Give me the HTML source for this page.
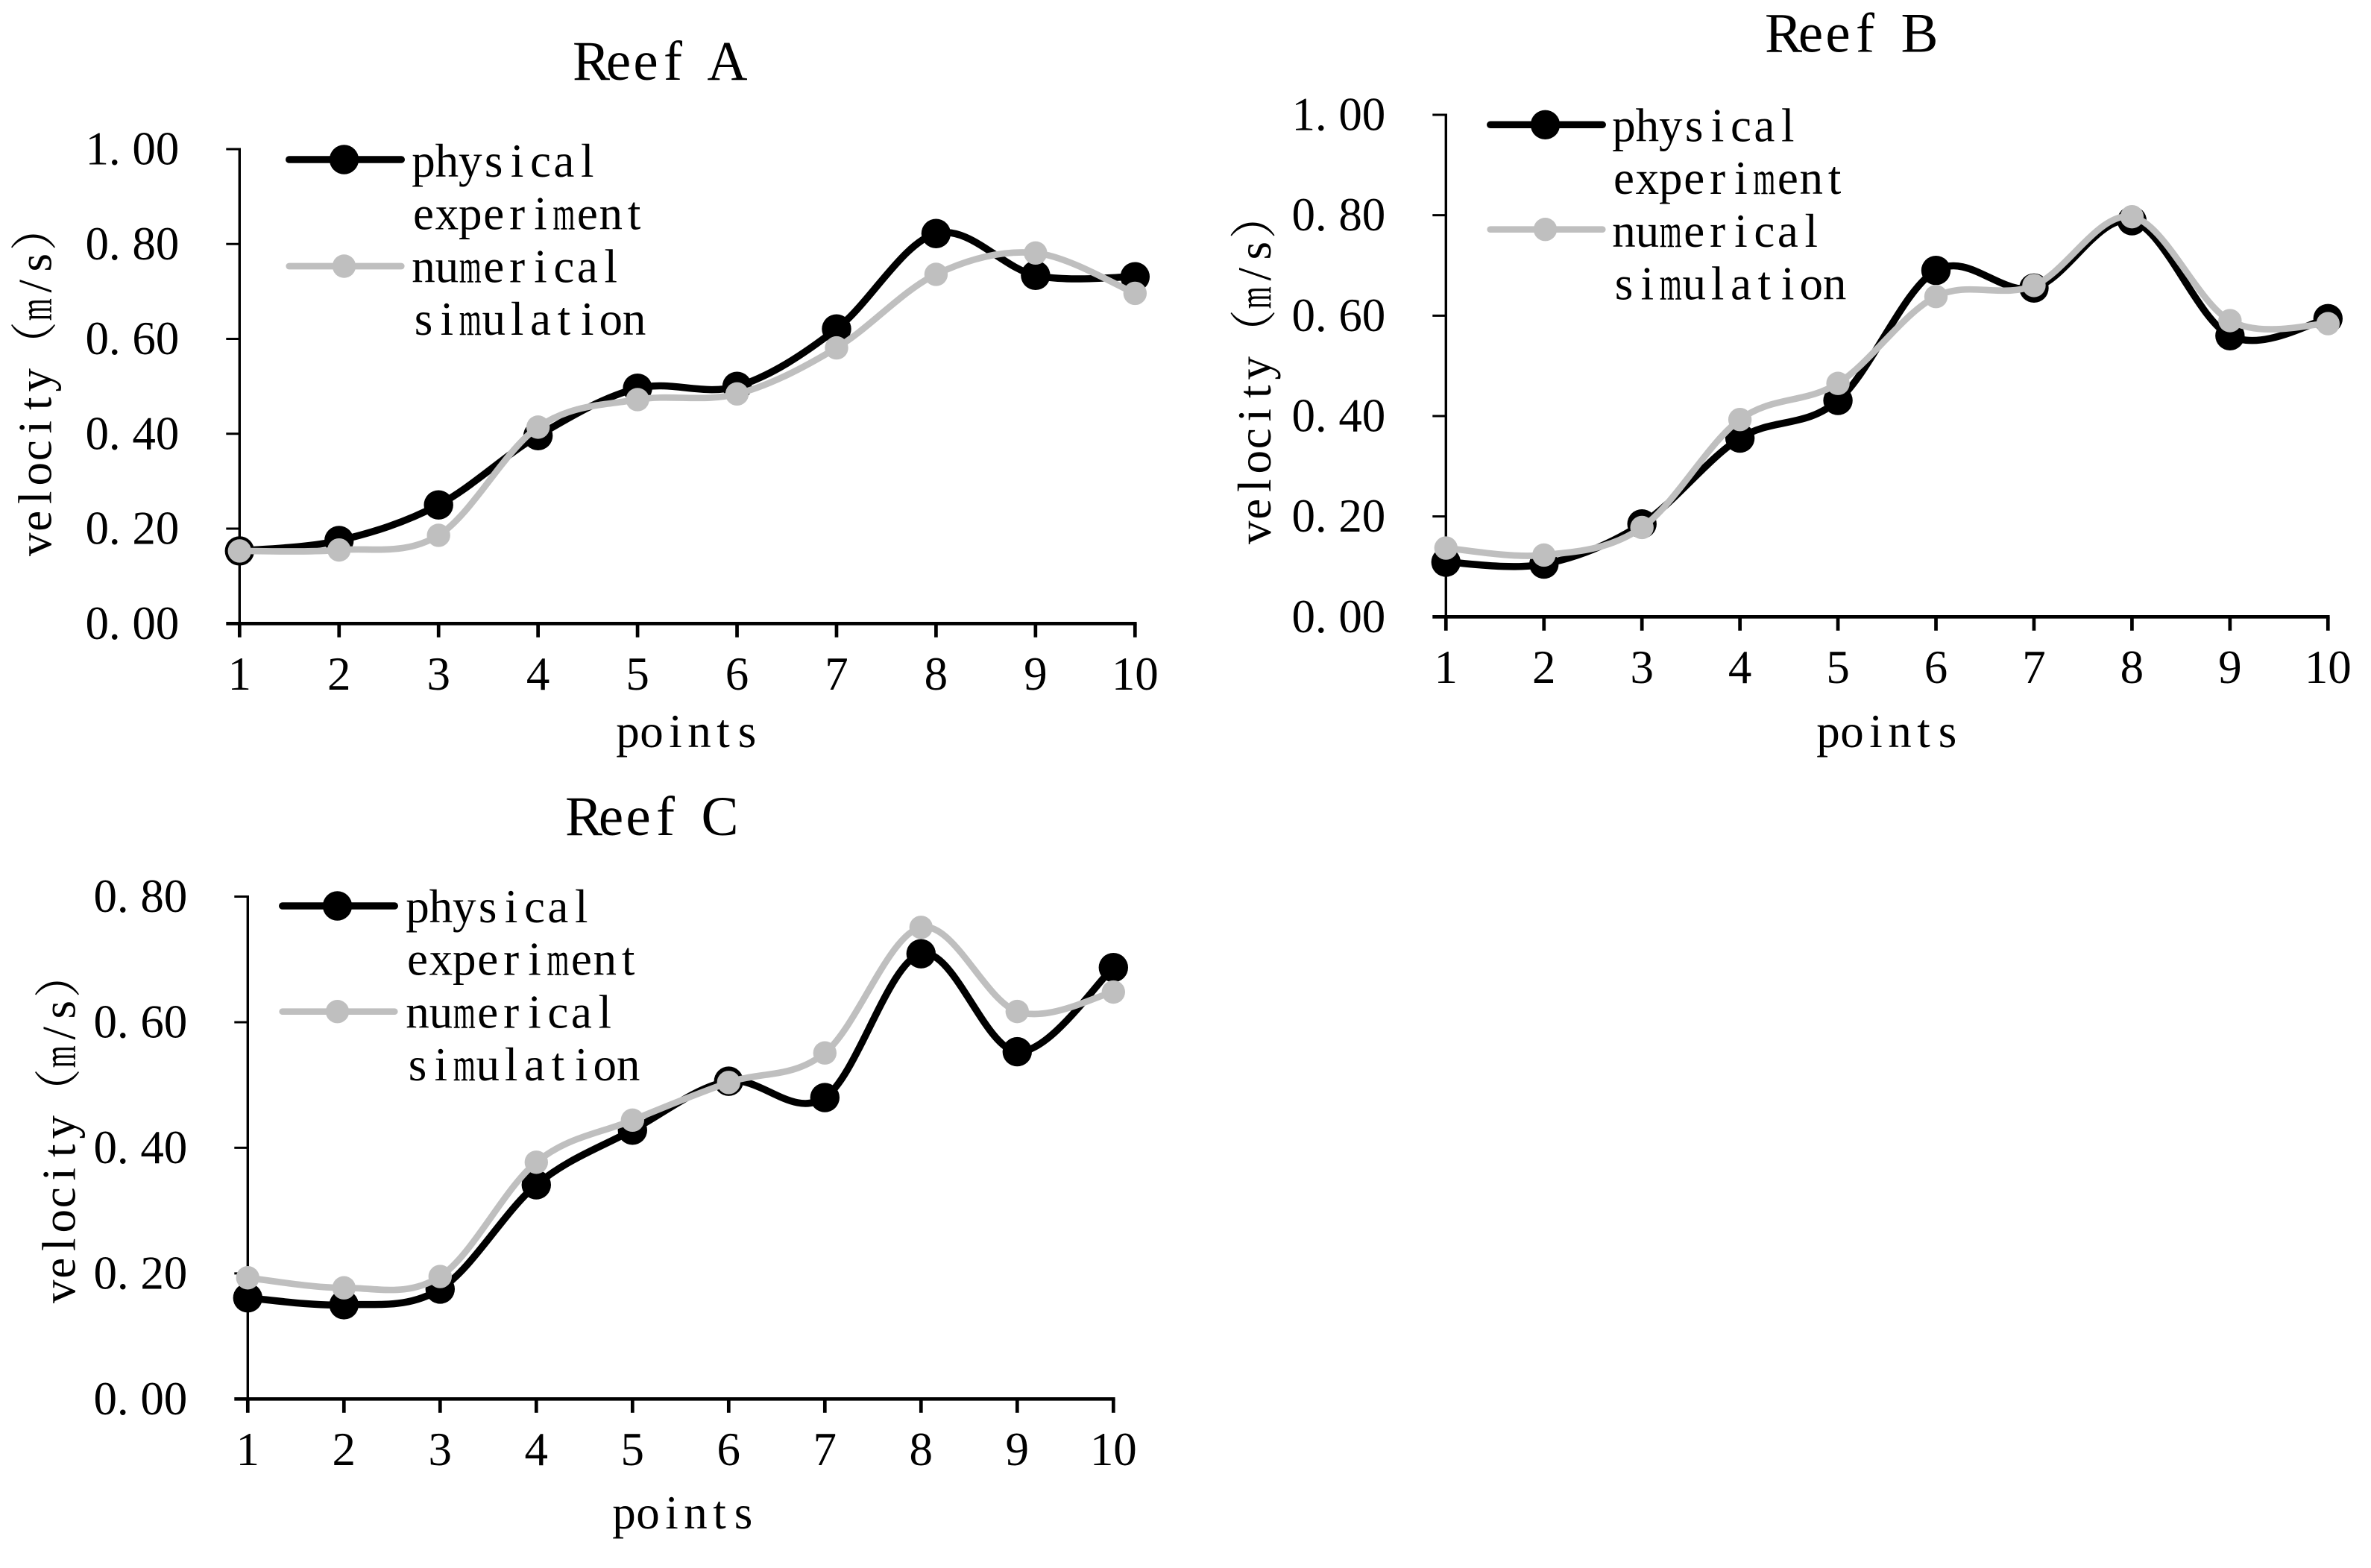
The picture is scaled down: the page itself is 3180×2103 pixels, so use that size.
<!DOCTYPE html>
<html lang="en">
<head>
<meta charset="utf-8">
<title>Reef velocity charts</title>
<style>
html,body{margin:0;padding:0;background:#fff;}
body{width:3180px;height:2103px;overflow:hidden;}
svg{display:block;}
text{font-family:"Liberation Serif","Noto Serif CJK SC",serif;fill:#000;}
</style>
</head>
<body>
<svg id="figure" width="3180" height="2103" viewBox="0 0 3180 2103"></svg>
<script>
const categories = ["1","2","3","4","5","6","7","8","9","10"];
const reefAPhysical = [0.153,0.175,0.250,0.396,0.496,0.500,0.621,0.822,0.734,0.731];
const reefANumerical = [0.153,0.155,0.186,0.414,0.472,0.484,0.581,0.736,0.781,0.696];
const reefBPhysical = [0.109,0.105,0.185,0.356,0.431,0.690,0.655,0.789,0.560,0.594];
const reefBNumerical = [0.137,0.123,0.178,0.393,0.465,0.638,0.660,0.797,0.590,0.584];
const reefCPhysical = [0.161,0.150,0.175,0.341,0.428,0.506,0.480,0.709,0.553,0.687];
const reefCNumerical = [0.193,0.177,0.195,0.377,0.444,0.504,0.551,0.751,0.617,0.648];
const reefABTicks = ["0.00","0.20","0.40","0.60","0.80","1.00"];
const reefCTicks = ["0.00","0.20","0.40","0.60","0.80"];
const xAxisTitle = "points";
const yAxisTitle = "velocity（m/s）";
const legendLabels = [["physical","experiment"],["numerical","simulation"]];

const NS = "http://www.w3.org/2000/svg";
const root = document.getElementById("figure");
const PITCH = 31.4;
const isWide = ch => ch.charCodeAt(0) > 255;

function cellText(parent, str, firstCenter, baseline, pitch, size, rotateAbout) {
  const t = document.createElementNS(NS, "text");
  t.setAttribute("y", baseline);
  t.setAttribute("font-size", size);
  t.setAttribute("text-anchor", "middle");
  const xs = [];
  let cell = 0;
  for (const ch of str) {
    if (isWide(ch)) {
      xs.push((firstCenter + (cell + 0.5) * pitch).toFixed(1));
      cell += 2;
    } else {
      xs.push((firstCenter + cell * pitch - (ch === "." ? 8 : 0)).toFixed(1));
      cell += 1;
    }
    if (ch === "m") {
      const s = document.createElementNS(NS, "tspan");
      
      
      s.setAttribute("textLength", (pitch * 0.95).toFixed(1));
      s.setAttribute("lengthAdjust", "spacingAndGlyphs");
      s.textContent = ch;
      t.appendChild(s);
    } else {
      t.appendChild(document.createTextNode(ch));
    }
  }
  t.setAttribute("x", xs.join(" "));
  if (rotateAbout) {
    t.setAttribute("transform", "rotate(-90 " + rotateAbout[0] + " " + rotateAbout[1] + ")");
  }
  parent.appendChild(t);
  return t;
}

function rule(parent, x1, y1, x2, y2, width) {
  const l = document.createElementNS(NS, "line");
  l.setAttribute("x1", x1);
  l.setAttribute("y1", y1);
  l.setAttribute("x2", x2);
  l.setAttribute("y2", y2);
  l.setAttribute("stroke", "#000");
  l.setAttribute("stroke-width", width);
  parent.appendChild(l);
  return l;
}

function smoothPath(pts) {
  let d = "M" + pts[0][0].toFixed(2) + " " + pts[0][1].toFixed(2);
  for (let i = 0; i < pts.length - 1; i++) {
    const p0 = pts[Math.max(i - 1, 0)];
    const p1 = pts[i];
    const p2 = pts[i + 1];
    const p3 = pts[Math.min(i + 2, pts.length - 1)];
    const c1x = p1[0] + (p2[0] - p0[0]) / 6;
    const c1y = p1[1] + (p2[1] - p0[1]) / 6;
    const c2x = p2[0] - (p3[0] - p1[0]) / 6;
    const c2y = p2[1] - (p3[1] - p1[1]) / 6;
    d += "C" + c1x.toFixed(2) + " " + c1y.toFixed(2) + " " + c2x.toFixed(2) + " " + c2y.toFixed(2) + " " + p2[0].toFixed(2) + " " + p2[1].toFixed(2);
  }
  return d;
}

function drawSeries(g, values, xScale, yScale, colour, lineWidth, radius, name) {
  const s = document.createElementNS(NS, "g");
  
  
  const pts = values.map((v, i) => [xScale(i), yScale(v)]);
  const path = document.createElementNS(NS, "path");
  
  
  path.setAttribute("d", smoothPath(pts));
  path.setAttribute("fill", "none");
  path.setAttribute("stroke", colour);
  path.setAttribute("stroke-width", lineWidth);
  path.setAttribute("stroke-linecap", "round");
  s.appendChild(path);
  pts.forEach(p => {
    const c = document.createElementNS(NS, "circle");
    
    
    c.setAttribute("cx", p[0].toFixed(2));
    c.setAttribute("cy", p[1].toFixed(2));
    c.setAttribute("r", radius);
    c.setAttribute("fill", colour);
    s.appendChild(c);
  });
  g.appendChild(s);
}

function drawChart(cfg) {
  const g = document.createElementNS(NS, "g");
  
  
  root.appendChild(g);

  const maxTick = parseFloat(cfg.ticks[cfg.ticks.length - 1]);
  const xScale = i => cfg.x0 + (cfg.x1 - cfg.x0) * i / (categories.length - 1);
  const yScale = v => cfg.y0 + (cfg.y1 - cfg.y0) * v / maxTick;

  const title = cellText(g, cfg.title, cfg.titleX, cfg.titleY, 36.5, 75);
  
  

  const yAxis = rule(g, cfg.x0, cfg.y1 - 1.5, cfg.x0, cfg.y0, 3.4);
  
  
  const xAxis = rule(g, cfg.x0 - 18, cfg.y0, cfg.x1 + 2.3, cfg.y0, 4.7);
  
  

  cfg.ticks.forEach(label => {
    const v = parseFloat(label);
    const y = yScale(v);
    if (v > 0) {
      const tk = rule(g, cfg.x0 - 18, y, cfg.x0, y, 3);
      
      
    }
    const tl = cellText(g, label, cfg.x0 - 191, y + 20.5, PITCH, 63);
    
    
  });

  categories.forEach((label, i) => {
    const x = xScale(i);
    const tk = rule(g, x, cfg.y0, x, cfg.y0 + 18.5, 4.7);
    
    
    const tl = cellText(g, label, x - (label.length - 1) * PITCH / 2, cfg.y0 + 88.5, PITCH, 63);
    
    
  });

  const xt = cellText(g, xAxisTitle, cfg.xTitleX, cfg.xTitleY, 32, 63);
  
  

  const yt = cellText(g, yAxisTitle, cfg.yTitleX + 15.75, cfg.yTitleY, 31.5, 63, [cfg.yTitleX, cfg.yTitleY]);
  
  

  drawSeries(g, cfg.physical, xScale, yScale, "#000", 9.5, 19.7, "physical-experiment");
  drawSeries(g, cfg.numerical, xScale, yScale, "#bfbfbf", 8.7, 15.7, "numerical-simulation");

  const legend = document.createElementNS(NS, "g");
  
  
  g.appendChild(legend);
  [["#000", 9.5, 19.7, cfg.legendY[0]], ["#bfbfbf", 8.7, 15.7, cfg.legendY[1]]].forEach(e => {
    const key = document.createElementNS(NS, "line");
    
    
    key.setAttribute("x1", cfg.legendX + 4.75);
    key.setAttribute("x2", cfg.legendX + 155.25);
    key.setAttribute("y1", e[3]);
    key.setAttribute("y2", e[3]);
    key.setAttribute("stroke", e[0]);
    key.setAttribute("stroke-width", e[1]);
    key.setAttribute("stroke-linecap", "round");
    legend.appendChild(key);
    const dot = document.createElementNS(NS, "circle");
    
    
    dot.setAttribute("cx", cfg.legendX + 78.5);
    dot.setAttribute("cy", e[3]);
    dot.setAttribute("r", e[2]);
    dot.setAttribute("fill", e[0]);
    legend.appendChild(dot);
  });
  legendLabels.flat().forEach((label, i) => {
    const lt = cellText(legend, label, cfg.legendTextX, cfg.legendBase + i * 70.7, 31.4, 63);
    
    
  });
}

drawChart({
  name: "reef-a-chart", title: "Reef A", physical: reefAPhysical, numerical: reefANumerical, ticks: reefABTicks,
  x0: 321.3, x1: 1522.3, y0: 836.3, y1: 200,
  titleX: 793, titleY: 107, xTitleX: 842, xTitleY: 1002, yTitleX: 68.5, yTitleY: 746,
  legendX: 383, legendY: [214, 357], legendTextX: 568, legendBase: 237
});
drawChart({
  name: "reef-b-chart", title: "Reef B", physical: reefBPhysical, numerical: reefBNumerical, ticks: reefABTicks,
  x0: 1939.3, x1: 3122.3, y0: 827.3, y1: 154,
  titleX: 2392, titleY: 69.5, xTitleX: 2452, xTitleY: 1002, yTitleX: 1704, yTitleY: 730,
  legendX: 1994, legendY: [167.3, 307.7], legendTextX: 2178, legendBase: 189.5
});
drawChart({
  name: "reef-c-chart", title: "Reef C", physical: reefCPhysical, numerical: reefCNumerical, ticks: reefCTicks,
  x0: 332.3, x1: 1493.3, y0: 1876.3, y1: 1202.5,
  titleX: 783, titleY: 1120, xTitleX: 837, xTitleY: 2050, yTitleX: 100.5, yTitleY: 1748,
  legendX: 374, legendY: [1215, 1356.7], legendTextX: 560, legendBase: 1237
});
</script>
</body>
</html>
